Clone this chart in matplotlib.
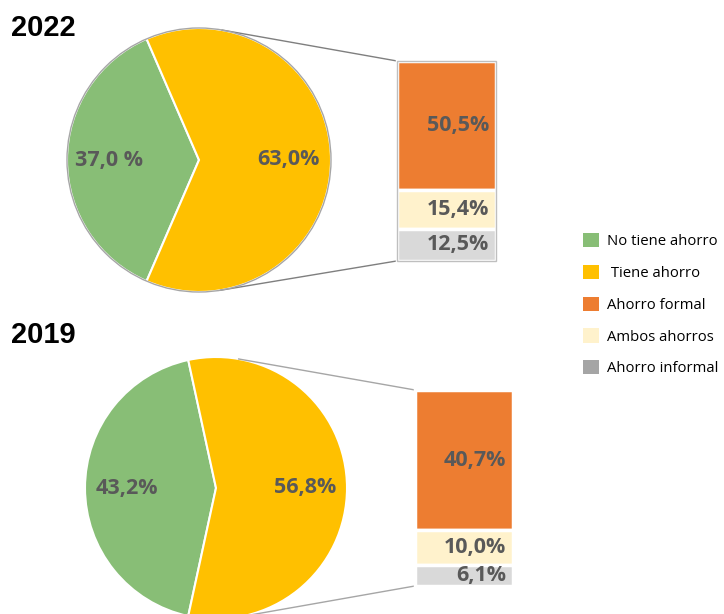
import numpy as np
import matplotlib
matplotlib.use('Agg')
from matplotlib import pyplot as plt
from matplotlib.patches import Patch, Circle

# data
years = ['2022', '2019']
pie_2022 = [37.0, 63.0]
pie_2019 = [43.2, 56.8]
pie_text_2022 = ['37,0 %', '63,0%']
pie_text_2019 = ['43,2%', '56,8%']
bar_2022 = [50.5, 15.4, 12.5]   # formal, ambos, informal
bar_2019 = [40.7, 10.0, 6.1]
legend_labels = ['No tiene ahorro', ' Tiene ahorro', 'Ahorro formal',
                 'Ambos ahorros', 'Ahorro informal']

pie_colors = ['#88BE76', '#FFC000']
bar_colors = ['#ED7D31', '#FFF2CC', '#D9D9D9']
legend_colors = ['#88BE76', '#FFC000', '#ED7D31', '#FFF2CC', '#A5A5A5']
txt_col = '#595959'

W, H = 724, 614
lab_font = dict(family=['Open Sans', 'DejaVu Sans'], weight='bold', size=15.5, color=txt_col)


def py(y):
    # pixel row -> data y (data units are pixels, y up)
    return H - y


def tangent(cx, cy, r, px, pyy, side):
    dx, dy = px - cx, pyy - cy
    d = np.hypot(dx, dy)
    ang = np.arctan2(dy, dx) + side * np.arccos(r / d)
    return cx + r * np.cos(ang), cy + r * np.sin(ang)


def panel(ax, year, pie_vals, pie_txt, bar_vals, cx, cy, r, bx, btop, bw, scale,
          line_col, outline, title_y):
    cy = py(cy)
    wedges, texts = ax.pie(pie_vals, colors=pie_colors, startangle=180 - pie_vals[0] * 1.8,
                           center=(cx, cy), radius=r, labels=pie_txt, labeldistance=0.68,
                           wedgeprops=dict(edgecolor='white', linewidth=1.5),
                           textprops=lab_font)
    for t in texts:
        t.set_ha('center')
        t.set_va('center')
    if outline:
        ax.add_patch(Circle((cx, cy), r, fill=False, edgecolor='#A6A6A6', lw=1, zorder=3))

    # stacked bar, top down
    vals = np.array(bar_vals)
    top = py(btop)
    heights = vals * scale
    bottoms = top - np.cumsum(heights)
    ax.bar(bx + bw / 2, heights, bottom=bottoms, width=bw, color=bar_colors,
           edgecolor='white', linewidth=2.5, zorder=2)
    if outline:
        ax.bar(bx + bw / 2, heights.sum(), bottom=bottoms[-1], width=bw, fill=False,
               edgecolor='#BFBFBF', linewidth=1, zorder=3)
    for v, b, h in zip(vals, bottoms, heights):
        ax.text(bx + bw - 7, b + h / 2, f'{v:.1f}%'.replace('.', ','),
                ha='right', va='center', zorder=4, **lab_font)

    # connector lines
    tx, ty = tangent(cx, cy, r, bx, top, 1)
    ax.plot([tx, bx], [ty, top], color=line_col, lw=1, zorder=1)
    bot = bottoms[-1]
    tx, ty = tangent(cx, cy, r, bx, bot, -1)
    ax.plot([tx, bx], [ty, bot], color=line_col, lw=1, zorder=1)

    ax.text(11, py(title_y), year, fontsize=21, weight='bold', va='center', ha='left',
            family=['Liberation Sans', 'DejaVu Sans'])


fig = plt.figure(figsize=(W / 100, H / 100), dpi=100)
ax = fig.add_axes([0, 0, 1, 1])

panel(ax, years[0], pie_2022, pie_text_2022, bar_2022, 199, 160, 132,
      397, 61, 99, 2.55, '#7F7F7F', True, 28)
panel(ax, years[1], pie_2019, pie_text_2019, bar_2019, 216, 488, 131,
      415, 390, 98, 3.45, '#A6A6A6', False, 335)

ax.set_xlim(0, W)
ax.set_ylim(0, H)
ax.set_aspect('auto')
ax.axis('off')

handles = [Patch(facecolor=c, edgecolor='none') for c in legend_colors]
fig.legend(handles, legend_labels, loc='upper left',
           bbox_to_anchor=(583 / W, 1 - 233 / H), frameon=False,
           prop=dict(family=['Open Sans', 'DejaVu Sans'], size=10.7),
           handlelength=1.05, handleheight=1.1, labelspacing=1.05,
           handletextpad=0.55, borderpad=0, borderaxespad=0)

fig.savefig('out.png', dpi=100)
